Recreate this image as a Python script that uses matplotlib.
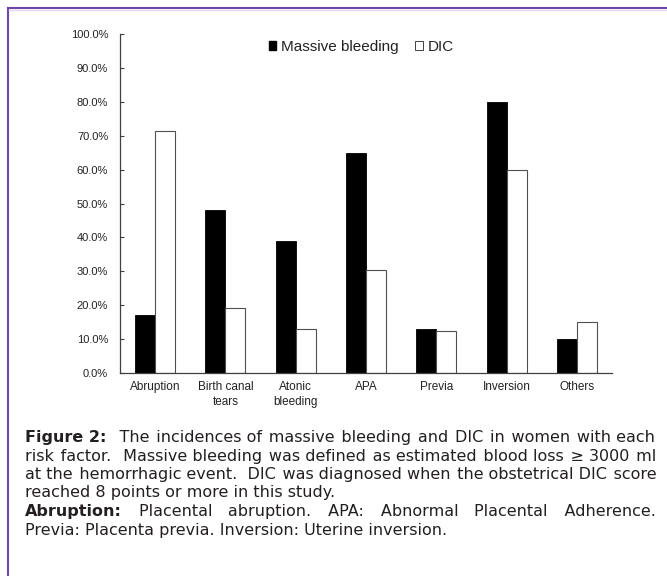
import re
import matplotlib
matplotlib.use("Agg")
import matplotlib.pyplot as plt
from matplotlib.lines import Line2D
from matplotlib.patches import Patch
import numpy as np

plt.rcParams['font.family'] = ['Liberation Sans', 'DejaVu Sans']

# data
categories = ["Abruption", "Birth canal\ntears", "Atonic\nbleeding", "APA",
              "Previa", "Inversion", "Others"]
massive_bleeding = [17.0, 48.0, 39.0, 65.0, 13.0, 80.0, 10.0]
dic = [71.5, 19.3, 13.0, 30.5, 12.5, 60.0, 15.0]
yticks = [0, 10, 20, 30, 40, 50, 60, 70, 80, 90, 100]

# caption lines: (bold lead, plain rest, justified?)
caption = [
    ("Figure 2:", "  The incidences of massive bleeding and DIC in women with each", True),
    ("", "risk factor.  Massive bleeding was defined as estimated blood loss \u2265 3000 ml", True),
    ("", "at the hemorrhagic event.  DIC was diagnosed when the obstetrical DIC score", True),
    ("", "reached 8 points or more in this study.", False),
    ("Abruption:", " Placental abruption. APA: Abnormal Placental Adherence.", True),
    ("", "Previa: Placenta previa. Inversion: Uterine inversion.", False),
]

W, H = 667, 576
fig = plt.figure(figsize=(W / 100, H / 100), dpi=100)
ax = fig.add_axes([120 / W, 1 - 373 / H, 492 / W, 339 / H])

x = np.arange(len(categories))
bw = 0.284
ax.bar(x - bw / 2, massive_bleeding, bw, color='black', edgecolor='black',
       linewidth=0.6)
ax.bar(x + bw / 2, dic, bw, color='white', edgecolor='#505050', linewidth=0.8)

ax.set_xlim(-0.5, len(categories) - 0.5)
ax.set_ylim(0, 100)
ax.set_yticks(yticks)
ax.set_yticklabels([f"{v:.1f}%" for v in yticks], fontsize=8, color='#222222')
ax.set_xticks(x)
ax.set_xticklabels(categories, fontsize=8.5, color='#222222', linespacing=1.25)
ax.tick_params(axis='y', direction='in', length=3, width=0.8, pad=8.5,
               color='#404040')
ax.tick_params(axis='x', length=0, pad=6)
for side in ('top', 'right'):
    ax.spines[side].set_visible(False)
for side in ('left', 'bottom'):
    ax.spines[side].set_color('#404040')
    ax.spines[side].set_linewidth(0.9)

handles = [Patch(facecolor='black', edgecolor='black', label='Massive bleeding'),
           Patch(facecolor='white', edgecolor='#404040', linewidth=0.7, label='DIC')]
ax.legend(handles=handles, loc='center', bbox_to_anchor=(0.49, 0.9626), ncol=2,
          frameon=False, fontsize=11, handlelength=0.5, handleheight=0.5,
          handletextpad=0.3, columnspacing=1.1, borderpad=0, labelcolor='#222222')

# purple frame (top and left)
fig.add_artist(Line2D([8 / W, 1], [1 - 8 / H, 1 - 8 / H], color='#6b45a8', lw=1.5))
fig.add_artist(Line2D([8 / W, 8 / W], [0, 1 - 8 / H], color='#6b45a8', lw=1.5))
fig.add_artist(Line2D([9 / W, 1], [1 - 9.5 / H, 1 - 9.5 / H], color='#e3d8f2', lw=1))

# justified caption: one text object per line, gaps built from spaces
fig.canvas.draw()
renderer = fig.canvas.get_renderer()
cap_font = ['DejaVu Sans']
cap_size = 11.5
cap_color = '#231f20'
x_left, x_right = 25, 656
baseline0, line_step = 442, 18.5
SP, HAIR = ' ', '\u200a'


def text_width(s, weight='normal'):
    t = fig.text(0, 0, s, fontsize=cap_size, fontweight=weight, family=cap_font)
    w = t.get_window_extent(renderer).width
    t.remove()
    return w


space_w = text_width("x" + SP + "x") - text_width("xx")
hair_w = text_width("x" + HAIR + "x") - text_width("xx")

for i, (bold, plain, justify) in enumerate(caption):
    y = 1 - (baseline0 + i * line_step) / H
    xp = x_left
    if bold:
        fig.text(xp / W, y, bold, fontsize=cap_size, fontweight='bold',
                 family=cap_font, color=cap_color, va='baseline')
        xp += text_width(bold, 'bold')
    toks = [(len(m.group(1)), m.group(2)) for m in re.finditer(r'(\s*)(\S+)', plain)]
    words_w = text_width(''.join(w for _, w in toks))
    n_spaces = sum(g for g, _ in toks)
    natural = words_w + n_spaces * space_w
    extra = (x_right - xp - natural) / n_spaces if justify else 0
    s = ''
    acc_target, acc_real = 0.0, 0.0
    for g, word in toks:
        if g:
            acc_target += g * (space_w + extra)
            need = acc_target - acc_real
            n_sp = max(0, int(need // space_w))
            n_hair = max(0, int(round((need - n_sp * space_w) / hair_w)))
            s += SP * n_sp + HAIR * n_hair
            acc_real += n_sp * space_w + n_hair * hair_w
        s += word
    fig.text(xp / W, y, s, fontsize=cap_size, family=cap_font,
             color=cap_color, va='baseline')

fig.savefig("out.png", dpi=100)
